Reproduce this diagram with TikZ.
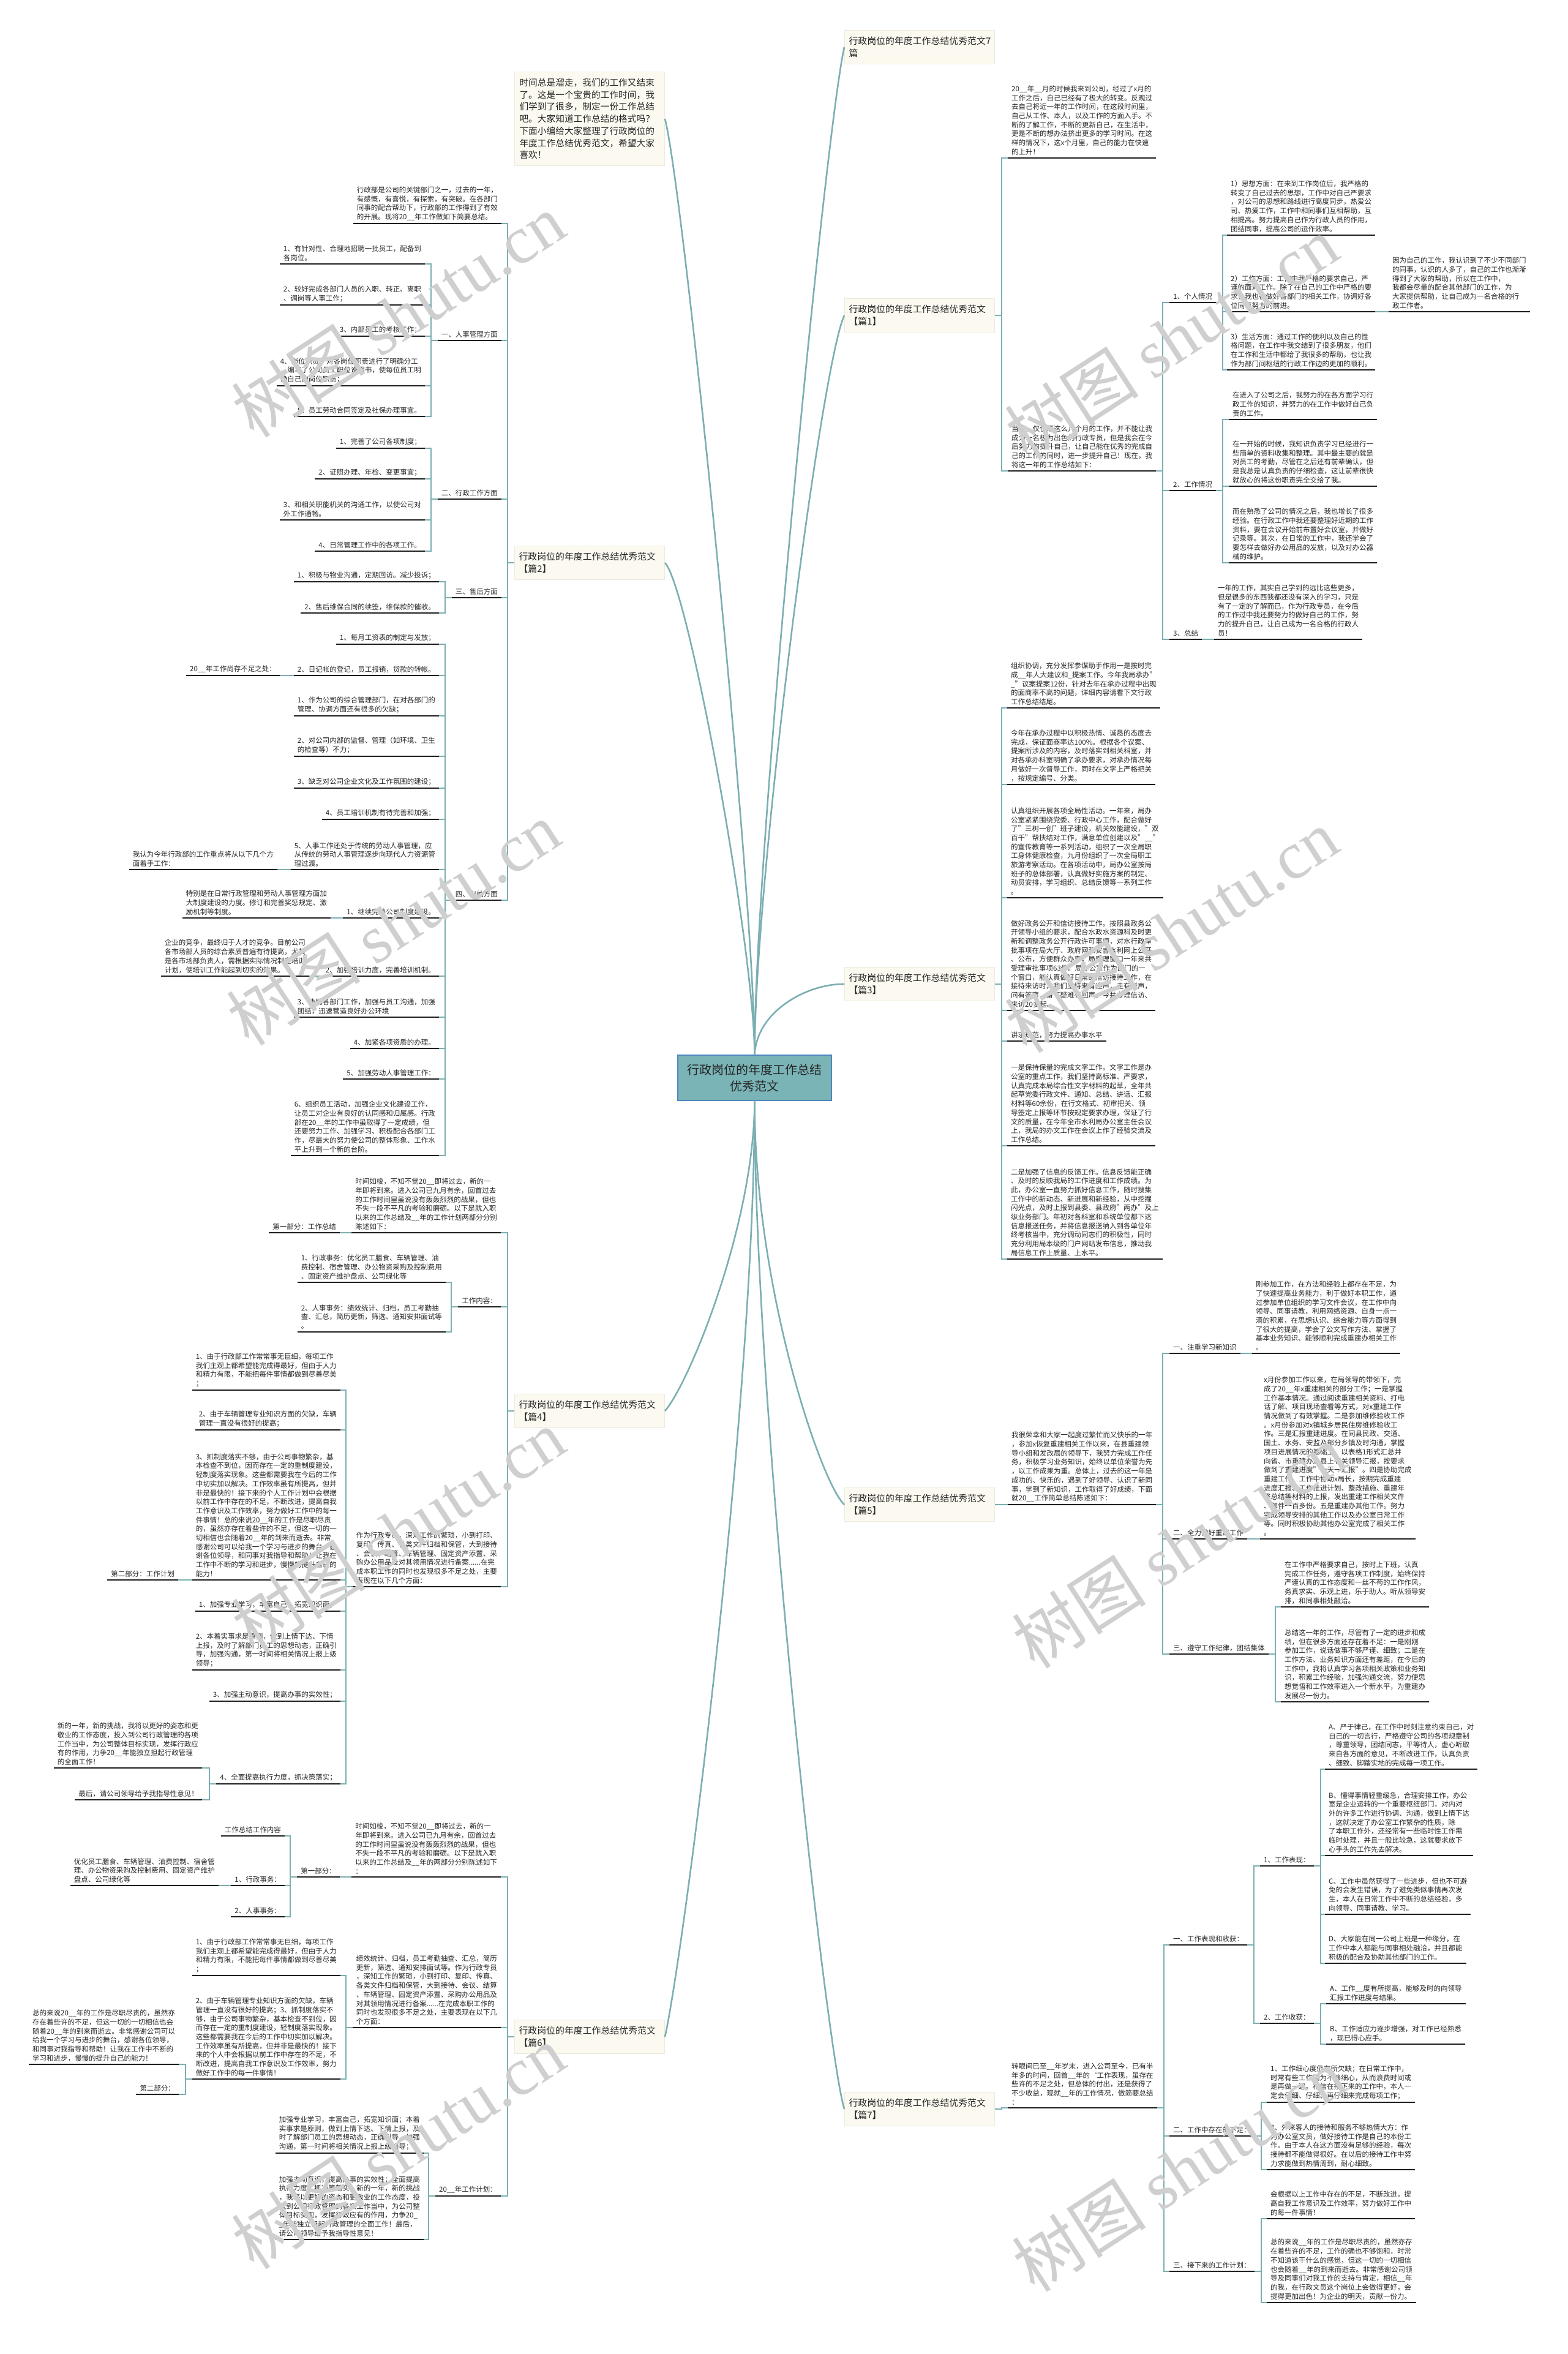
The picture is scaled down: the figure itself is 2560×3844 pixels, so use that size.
\documentclass[tikz,border=0pt]{standalone}
\usepackage{fontspec}
\setmainfont{Noto Sans CJK SC}
\newfontfamily\wmlat{Liberation Serif}
\definecolor{tealc}{HTML}{7BAFB2}
\definecolor{ulc}{HTML}{1E1E1E}
\definecolor{creamc}{HTML}{FCFAF0}
\definecolor{creamb}{HTML}{ECEBDD}
\definecolor{centerc}{HTML}{7AB4B6}
\definecolor{centerb}{HTML}{4F86C0}
\newcommand\fleaf{\fontsize{11.5}{14.7}\selectfont}
\newcommand\fbranch{\fontsize{14.9}{20.4}\selectfont}
\newcommand\fcenter{\fontsize{20}{27}\selectfont}
\newcommand\fintro{\fontsize{14.7}{19.7}\selectfont}
\newcommand\fwm{\fontsize{110}{110}\selectfont}
\tikzset{
  ulline/.style={draw=ulc,line width=2.2pt},
  lf/.style={font=\fleaf, align=left, inner xsep=6pt, inner ysep=4.5pt, text=black!85,
     append after command={\pgfextra{\let\LNd\tikzlastnode}(\LNd.south west) edge[ulline] (\LNd.south east)}},
  R/.style={lf, anchor=south west},
  L/.style={lf, anchor=south east},
  conn/.style={draw=tealc, line width=2pt},
  crv/.style={draw=tealc, line width=2.6pt},
  brbox/.style={fill=creamc, draw=creamb, line width=1pt, font=\fbranch, align=left, text width=231pt, inner xsep=7pt, minimum height=55pt, anchor=north west, text=black!85},
  wm/.style={text=black!19, rotate=33, inner sep=0pt},
}
\newcommand\cR[2]{\draw[conn] (#1.south east) -- ++(11,0) |- (#2.south west);}
\newcommand\cL[2]{\draw[conn] (#1.south west) -- ++(-11,0) |- (#2.south east);}
\newcommand\bR[2]{\draw[conn] (#1.east) -- ++(11,0) |- (#2.south west);}
\newcommand\bL[2]{\draw[conn] (#1.west) -- ++(-11,0) |- (#2.south east);}
\begin{document}
\begin{tikzpicture}[x=1pt,y=-1pt]
\useasboundingbox (0,0) rectangle (2560,3844);
\fill[white] (0,0) rectangle (2560,3844);
% ---------- central and branch boxes
\node[fill=centerc, draw=centerb, line width=1.2pt, font=\fcenter, align=center, minimum width=251pt, minimum height=74pt, text=black!85] (root) at (1232.5,1760) {行政岗位的年度工作总结\\优秀范文};
\node[fill=creamc, draw=creamb, line width=1pt, font=\fintro, align=left, anchor=north west, text width=229pt, inner xsep=8pt, minimum height=153pt, text=black!85] (intro) at (840,117) {时间总是溜走，我们的工作又结束\\了。这是一个宝贵的工作时间，我\\们学到了很多，制定一份工作总结\\吧。大家知道工作总结的格式吗？\\下面小编给大家整理了行政岗位的\\年度工作总结优秀范文，希望大家\\喜欢！};
\node[brbox] (b0) at (1379,49) {行政岗位的年度工作总结优秀范文7\\篇};
\node[brbox] (b1) at (1379,487) {行政岗位的年度工作总结优秀范文\\【篇1】};
\node[brbox] (b3) at (1379,1579) {行政岗位的年度工作总结优秀范文\\【篇3】};
\node[brbox] (b5) at (1379,2429) {行政岗位的年度工作总结优秀范文\\【篇5】};
\node[brbox] (b7) at (1379,3416) {行政岗位的年度工作总结优秀范文\\【篇7】};
\node[brbox] (b2) at (840,891) {行政岗位的年度工作总结优秀范文\\【篇2】};
\node[brbox] (b4) at (840,2276) {行政岗位的年度工作总结优秀范文\\【篇4】};
\node[brbox] (b6) at (840,3298) {行政岗位的年度工作总结优秀范文\\【篇6】};
% ---------- curves
\draw[crv] (root.north) .. controls (1232,1450) and (1115,300) .. (intro.east);
\draw[crv] (root.north) .. controls (1232,1550) and (1125,960) .. (b2.east);
\draw[crv] (root.north) .. controls (1232,1400) and (1350,200) .. (b0.west);
\draw[crv] (root.north) .. controls (1232,1450) and (1340,600) .. (b1.west);
\draw[crv] (root.north) .. controls (1236,1650) and (1320,1606) .. (b3.west);
\draw[crv] (root.south) .. controls (1232,2000) and (1125,2260) .. (b4.east);
\draw[crv] (root.south) .. controls (1232,2300) and (1115,3200) .. (b6.east);
\draw[crv] (root.south) .. controls (1232,2100) and (1340,2420) .. (b5.west);
\draw[crv] (root.south) .. controls (1232,2300) and (1350,3350) .. (b7.west);
% ================= 篇1
\node[R] (b1p1) at (1646,258) {20\_\_年\_\_月的时候我来到公司，经过了x月的\\工作之后，自己已经有了极大的转变。反观过\\去自己将近一年的工作时间，在这段时间里，\\自己从工作、本人，以及工作的方面入手。不\\断的了解工作，不断的更新自己，在生活中，\\更是不断的想办法挤出更多的学习时间。在这\\样的情况下，这x个月里，自己的能力在快速\\的上升！};
\node[R] (b1p2) at (1646,769) {当然，仅仅是这么几个月的工作，并不能让我\\成为一名极为出色的行政专员，但是我会在今\\后努力的提升自己，让自己能在优秀的完成自\\己的工作的同时，进一步提升自己！现在，我\\将这一年的工作总结如下：};
\node[R] (b1c1) at (1910,494) {1、个人情况};
\node[R] (b1c1a) at (2004,384) {1）思想方面：在来到工作岗位后，我严格的\\转变了自己过去的思想，工作中对自己严要求\\，对公司的思想和路线进行高度同步，热爱公\\司、热爱工作，工作中和同事们互相帮助，互\\相提高。努力提高自己作为行政人员的作用，\\团结同事，提高公司的运作效率。};
\node[R] (b1c1b) at (2004,509) {2）工作方面：工作中我严格的要求自己，严\\谨的面对工作。除了在自己的工作中严格的要\\求，我也在做好各部门的相关工作，协调好各\\位同事努力的前进。};
\node[R] (b1c1bx) at (2268,509) {因为自己的工作，我认识到了不少不同部门\\的同事，认识的人多了，自己的工作也渐渐\\得到了大家的帮助，所以在工作中，\\我都会尽量的配合其他部门的工作，为\\大家提供帮助，让自己成为一名合格的行\\政工作者。};
\node[R] (b1c1c) at (2004,604) {3）生活方面：通过工作的便利以及自己的性\\格问题，在工作中我交结到了很多朋友，他们\\在工作和生活中都给了我很多的帮助，也让我\\作为部门间枢纽的行政工作边的更加的顺利。};
\node[R] (b1c2) at (1910,801) {2、工作情况};
\node[R] (b1c2a) at (2007,685) {在进入了公司之后，我努力的在各方面学习行\\政工作的知识，并努力的在工作中做好自己负\\责的工作。};
\node[R] (b1c2b) at (2007,794) {在一开始的时候，我知识负责学习已经进行一\\些简单的资料收集和整理。其中最主要的就是\\对员工的考勤，尽管在之后还有前辈确认，但\\是我总是认真负责的仔细检查，这让前辈很快\\就放心的将这份职责完全交给了我。};
\node[R] (b1c2c) at (2007,919) {而在熟悉了公司的情况之后，我也增长了很多\\经验。在行政工作中我还要整理好近期的工作\\资料，要在会议开始前布置好会议室，并做好\\记录等。其次，在日常的工作中，我还学会了\\要怎样去做好办公用品的发放，以及对办公器\\械的维护。};
\node[R] (b1c3) at (1910,1044) {3、总结};
\node[R] (b1c3a) at (1983,1044) {一年的工作，其实自己学到的远比这些更多，\\但是很多的东西我都还没有深入的学习，只是\\有了一定的了解而已，作为行政专员，在今后\\的工作过中我还要努力的做好自己的工作，努\\力的提升自己，让自己成为一名合格的行政人\\员！};
\bR{b1}{b1p1} \bR{b1}{b1p2}
\cR{b1p2}{b1c1} \cR{b1p2}{b1c2} \cR{b1p2}{b1c3}
\cR{b1c1}{b1c1a} \cR{b1c1}{b1c1b} \cR{b1c1}{b1c1c} \cR{b1c1b}{b1c1bx}
\cR{b1c2}{b1c2a} \cR{b1c2}{b1c2b} \cR{b1c2}{b1c2c}
\cR{b1c3}{b1c3a}
% ================= 篇3
\node[R] (b3a) at (1645,1156) {组织协调，充分发挥参谋助手作用一是按时完\\成\_\_年人大建议和\_提案工作。今年我局承办"\\\_"议案提案12份，针对去年在承办过程中出现\\的面商率不高的问题，详细内容请看下文行政\\工作总结结尾。};
\node[R] (b3b) at (1645,1281) {今年在承办过程中以积极热情、诚恳的态度去\\完成，保证面商率达100\%。根据各个议案、\\提案所涉及的内容，及时落实到相关科室，并\\对各承办科室明确了承办要求，对承办情况每\\月做好一次督导工作，同时在文字上严格把关\\，按规定编号、分类。};
\node[R] (b3c) at (1645,1466) {认真组织开展各项全局性活动。一年来，局办\\公室紧紧围绕党委、行政中心工作，配合做好\\了"三树一创"班子建设，机关效能建设，"双\\百千"帮扶结对工作，满意单位创建以及"\_\_"\\的宣传教育等一系列活动，组织了一次全局职\\工身体健康检查，九月份组织了一次全局职工\\旅游考察活动。在各项活动中，局办公室按局\\班子的总体部署，认真做好实施方案的制定、\\动员安排，学习组织、总结反馈等一系列工作\\。};
\node[R] (b3d) at (1645,1650) {做好政务公开和信访接待工作。按照县政务公\\开领导小组的要求，配合水政水资源科及时更\\新和调整政务公开行政许可事项，对水行政审\\批事项在局大厅、政府网和安吉水利网上公开\\、公布，方便群众办事，局受理窗口一年来共\\受理审批事项63件。局办公室作为部门的一\\个窗口，能认真做好日常的信访接待工作，在\\接待来访时，我们坚持来有迎声，走有送声，\\问有答声，留下疑难有回声。今共办理信访、\\来访20多起。};
\node[R] (b3e) at (1645,1700) {讲求规范，努力提高办事水平};
\node[R] (b3f) at (1645,1871) {一是保持保量的完成文字工作。文字工作是办\\公室的重点工作，我们坚持高标准、严要求，\\认真完成本局综合性文字材料的起草，全年共\\起草党委行政文件、通知、总结、讲话、汇报\\材料等60余份，在行文格式、初审把关、领\\导签定上报等环节按规定要求办理，保证了行\\文的质量，在今年全市水利局办公室主任会议\\上，我局的办文工作在会议上作了经验交流及\\工作总结。};
\node[R] (b3g) at (1645,2056) {二是加强了信息的反馈工作。信息反馈能正确\\、及时的反映我局的工作进度和工作成绩。为\\此，办公室一直努力抓好信息工作，随时搜集\\工作中的新动态、新进展和新经验，从中挖掘\\闪光点，及时上报到县委、县政府"两办"及上\\级业务部门。年初对各科室和系统单位都下达\\信息报送任务，并将信息报送纳入到各单位年\\终考核当中，充分调动同志们的积极性，同时\\充分利用局本级的门户网站发布信息，推动我\\局信息工作上质量、上水平。};
\bR{b3}{b3a} \bR{b3}{b3b} \bR{b3}{b3c} \bR{b3}{b3d} \bR{b3}{b3e} \bR{b3}{b3f} \bR{b3}{b3g}
% ================= 篇5
\node[R] (b5p) at (1646,2457) {我很荣幸和大家一起度过繁忙而又快乐的一年\\，参加x恢复重建相关工作以来，在县重建领\\导小组和发改局的领导下，我努力完成工作任\\务，积极学习业务知识，始终以单位荣誉为先\\，以工作成果为重。总体上，过去的这一年是\\成功的、快乐的，遇到了好领导、认识了新同\\事，学到了新知识，工作取得了好成绩，下面\\就20\_\_工作简单总结陈述如下：};
\node[R] (b5c1) at (1910,2210) {一、注重学习新知识};
\node[R] (b5c1a) at (2045,2210) {刚参加工作，在方法和经验上都存在不足，为\\了快速提高业务能力，利于做好本职工作，通\\过参加单位组织的学习文件会议，在工作中向\\领导、同事请教，利用网络资源、自身一点一\\滴的积累，在思想认识、综合能力等方面得到\\了很大的提高，学会了公文写作方法、掌握了\\基本业务知识、能够顺利完成重建办相关工作\\。};
\node[R] (b5c2) at (1910,2513) {二、全力做好重建工作};
\node[R] (b5c2a) at (2058,2513) {x月份参加工作以来，在局领导的带领下，完\\成了20\_\_年x重建相关的部分工作；一是掌握\\工作基本情况。通过阅读重建相关资料、打电\\话了解、项目现场查看等方式，对x重建工作\\情况做到了有效掌握。二是参加维修验收工作\\。x月份参加对x镇城乡居民住房维修验收工\\作。三是汇报重建进度。在同县民政、交通、\\国土、水务、安监及部分乡镇及时沟通，掌握\\项目进展情况的基础上，以表格1形式汇总并\\向省、市重建办及县上有关领导汇报，按要求\\做到了重建进度"十天一汇报"。四是协助完成\\重建工作。工作中协助x局长，按期完成重建\\进度汇报、工作推进计划、整改措施、重建年\\终总结等材料的上报，发出重建工作相关文件\\、邮件一百多份。五是重建办其他工作。努力\\完成领导安排的其他工作以及办公室日常工作\\等。同时积极协助其他办公室完成了相关工作\\。};
\node[R] (b5c3) at (1910,2701) {三、遵守工作纪律，团结集体};
\node[R] (b5c3a) at (2092,2624) {在工作中严格要求自己，按时上下班，认真\\完成工作任务，遵守各项工作制度，始终保持\\严谨认真的工作态度和一丝不苟的工作作风，\\务真求实、乐观上进，乐于助人。听从领导安\\排，和同事相处融洽。};
\node[R] (b5c3b) at (2092,2779) {总结这一年的工作，尽管有了一定的进步和成\\绩，但在很多方面还存在着不足：一是刚刚\\参加工作，说话做事不够严谨、细致；二是在\\工作方法、业务知识方面还有差距，在今后的\\工作中，我将认真学习各项相关政策和业务知\\识，积累工作经验，加强沟通交流，努力使思\\想觉悟和工作效率进入一个新水平，为重建办\\发展尽一份力。};
\bR{b5}{b5p}
\cR{b5p}{b5c1} \cR{b5p}{b5c2} \cR{b5p}{b5c3}
\cR{b5c1}{b5c1a} \cR{b5c2}{b5c2a} \cR{b5c3}{b5c3a} \cR{b5c3}{b5c3b}
% ================= 篇7
\node[R] (b7p) at (1646,3442) {转眼间已至\_\_年岁末，进入公司至今，已有半\\年多的时间，回首\_\_年的`工作表现，虽存在\\些许的不足之处，但总体的付出，还是获得了\\不少收益，现就\_\_年的工作情况，做简要总结\\：};
\node[R] (b7c1) at (1910,3176) {一、工作表现和收获：};
\node[R] (b7c1a) at (2058,3047) {1、工作表现：};
\node[R] (b7a1) at (2164,2889) {A、严于律己，在工作中时刻注意约束自己，对\\自己的一切言行，严格遵守公司的各项规章制\\，尊重领导，团结同志，平等待人，虚心听取\\来自各方面的意见，不断改进工作，认真负责\\、细致、脚踏实地的完成每一项工作。};
\node[R] (b7a2) at (2164,3030) {B、懂得事情轻重缓急，合理安排工作，办公\\室是企业运转的一个重要枢纽部门，对内对\\外的许多工作进行协调、沟通，做到上情下达\\，这就决定了办公室工作繁杂的性质，除\\了本职工作外，还经常有一些临时性工作需\\临时处理，并且一般比较急，这就要求放下\\心手头的工作先去解决。};
\node[R] (b7a3) at (2164,3126) {C、工作中虽然获得了一些进步，但也不可避\\免的会发生错误，为了避免类似事情再次发\\生，本人在日常工作中不断的总结经验，多\\向领导、同事请教、学习。};
\node[R] (b7a4) at (2164,3206) {D、大家能在同一公司上班是一种缘分，在\\工作中本人都能与同事相处融洽，并且都能\\积极的配合及协助其他部门的工作。};
\node[R] (b7c1b) at (2058,3304) {2、工作收获：};
\node[R] (b7b1) at (2166,3272) {A、工作\_\_度有所提高，能够及时的向领导\\汇报工作进度与结果。};
\node[R] (b7b2) at (2166,3338) {B、工作适应力逐步增强，对工作已经熟悉\\，现已得心应手。};
\node[R] (b7c2) at (1910,3488) {二、工作中存在的不足：};
\node[R] (b7d1) at (2069,3433) {1、工作细心度仍有所欠缺；在日常工作中，\\时常有些工作因为不够细心，从而浪费时间或\\是再做一遍。相信在接下来的工作中，本人一\\定会仔细、仔细、再仔细来完成每项工作；};
\node[R] (b7d2) at (2069,3543) {2、外来客人的接待和服务不够热情大方：作\\为办公室文员，做好接待工作是自己的本份工\\作。由于本人在这方面没有足够的经验，每次\\接待都不能做得很好。在以后的接待工作中努\\力求能做到热情周到，耐心细致。};
\node[R] (b7c3) at (1910,3709) {三、接下来的工作计划：};
\node[R] (b7e1) at (2069,3623) {会根据以上工作中存在的不足，不断改进，提\\高自我工作意识及工作效率，努力做好工作中\\的每一件事情！};
\node[R] (b7e2) at (2069,3760) {总的来说\_\_年的工作是尽职尽责的，虽然亦存\\在着些许的不足，工作的确也不够饱和，时常\\不知道该干什么的感觉，但这一切的一切相信\\也会随着\_\_年的到来而逝去。非常感谢公司领\\导及同事们对我工作的支持与肯定，相信\_\_年\\的我，在行政文员这个岗位上会做得更好，会\\提得更加出色！为企业的明天，贡献一份力。};
\bR{b7}{b7p}
\cR{b7p}{b7c1} \cR{b7p}{b7c2} \cR{b7p}{b7c3}
\cR{b7c1}{b7c1a} \cR{b7c1}{b7c1b}
\cR{b7c1a}{b7a1} \cR{b7c1a}{b7a2} \cR{b7c1a}{b7a3} \cR{b7c1a}{b7a4}
\cR{b7c1b}{b7b1} \cR{b7c1b}{b7b2}
\cR{b7c2}{b7d1} \cR{b7c2}{b7d2}
\cR{b7c3}{b7e1} \cR{b7c3}{b7e2}
% ================= 篇2
\node[L] (b2a) at (819,365) {行政部是公司的关键部门之一，过去的一年，\\有感慨，有喜悦，有探索，有突破。在各部门\\同事的配合帮助下，行政部的工作得到了有效\\的开展。现将20\_\_年工作做如下简要总结。};
\node[L] (b2b) at (819,556) {一、人事管理方面};
\node[L] (b2b1) at (694,431) {1、有针对性、合理地招聘一批员工，配备到\\各岗位。};
\node[L] (b2b2) at (694,498) {2、较好完成各部门人员的入职、转正、离职\\、调岗等人事工作；};
\node[L] (b2b3) at (694,549) {3、内部员工的考核工作；};
\node[L] (b2b4) at (694,630) {4、岗位职责：对各岗位职责进行了明确分工\\，编写了公司员工职位说明书，使每位员工明\\确自己的岗位职责；};
\node[L] (b2b5) at (694,680) {5、员工劳动合同签定及社保办理事宜。};
\node[L] (b2c) at (819,815) {二、行政工作方面};
\node[L] (b2c1) at (694,732) {1、完善了公司各项制度；};
\node[L] (b2c2) at (694,782) {2、证照办理、年检、变更事宜；};
\node[L] (b2c3) at (694,849) {3、和相关职能机关的沟通工作，以使公司对\\外工作通畅。};
\node[L] (b2c4) at (694,900) {4、日常管理工作中的各项工作。};
\node[L] (b2d) at (819,976) {三、售后方面};
\node[L] (b2d1) at (717,950) {1、积极与物业沟通，定期回访。减少投诉；};
\node[L] (b2d2) at (717,1001) {2、售后维保合同的续签，维保款的催收。};
\node[L] (b2e) at (819,1470) {四、出纳方面};
\node[L] (b2e1) at (717,1052) {1、每月工资表的制定与发放；};
\node[L] (b2e2) at (717,1103) {2、日记帐的登记，员工报销，货款的转帐。};
\node[L] (b2e2x) at (457,1103) {20\_\_年工作尚存不足之处：};
\node[L] (b2e3) at (717,1169) {1、作为公司的综合管理部门，在对各部门的\\管理、协调方面还有很多的欠缺；};
\node[L] (b2e4) at (717,1235) {2、对公司内部的监督、管理（如环境、卫生\\的检查等）不力；};
\node[L] (b2e5) at (717,1287) {3、缺乏对公司企业文化及工作氛围的建设；};
\node[L] (b2e6) at (717,1338) {4、员工培训机制有待完善和加强；};
\node[L] (b2e7) at (717,1420) {5、人事工作还处于传统的劳动人事管理，应\\从传统的劳动人事管理逐步向现代人力资源管\\理过渡。};
\node[L] (b2e7x) at (453,1420) {我认为今年行政部的工作重点将从以下几个方\\面着手工作：};
\node[L] (b2e8) at (717,1499) {1、继续完善公司制度建设。};
\node[L] (b2e8x) at (540,1499) {特别是在日常行政管理和劳动人事管理方面加\\大制度建设的力度。修订和完善奖惩规定、激\\励机制等制度。};
\node[L] (b2e9) at (717,1594) {2、加强培训力度，完善培训机制。};
\node[L] (b2e9x) at (505,1594) {企业的竞争，最终归于人才的竞争。目前公司\\各市场部人员的综合素质普遍有待提高，尤其\\是各市场部负责人，需根据实际情况制定培训\\计划，使培训工作能起到切实的效果。};
\node[L] (b2e10) at (717,1661) {3、协助各部门工作，加强与员工沟通，加强\\团结，迅速营造良好办公环境};
\node[L] (b2e11) at (717,1712) {4、加紧各项资质的办理。};
\node[L] (b2e12) at (717,1762) {5、加强劳动人事管理工作：};
\node[L] (b2e13) at (717,1887) {6、组织员工活动，加强企业文化建设工作，\\让员工对企业有良好的认同感和归属感。行政\\部在20\_\_年的工作中虽取得了一定成绩，但\\还要努力工作、加强学习、积极配合各部门工\\作，尽最大的努力使公司的整体形象、工作水\\平上升到一个新的台阶。};
\bL{b2}{b2a} \bL{b2}{b2b} \bL{b2}{b2c} \bL{b2}{b2d} \bL{b2}{b2e}
\cL{b2b}{b2b1} \cL{b2b}{b2b2} \cL{b2b}{b2b3} \cL{b2b}{b2b4} \cL{b2b}{b2b5}
\cL{b2c}{b2c1} \cL{b2c}{b2c2} \cL{b2c}{b2c3} \cL{b2c}{b2c4}
\cL{b2d}{b2d1} \cL{b2d}{b2d2}
\cL{b2e}{b2e1} \cL{b2e}{b2e2} \cL{b2e}{b2e3} \cL{b2e}{b2e4} \cL{b2e}{b2e5} \cL{b2e}{b2e6} \cL{b2e}{b2e7}
\cL{b2e}{b2e8} \cL{b2e}{b2e9} \cL{b2e}{b2e10} \cL{b2e}{b2e11} \cL{b2e}{b2e12} \cL{b2e}{b2e13}
\cL{b2e2}{b2e2x} \cL{b2e7}{b2e7x} \cL{b2e8}{b2e8x} \cL{b2e9}{b2e9x}
% ================= 篇4
\node[L] (b4a) at (818,2013) {时间如梭，不知不觉20\_\_即将过去，新的一\\年即将到来。进入公司已九月有余，回首过去\\的工作时间里虽说没有轰轰烈烈的战果，但也\\不失一段不平凡的考验和磨砺。以下是就入职\\以来的工作总结及\_\_年的工作计划两部分分别\\陈述如下：};
\node[L] (b4ax) at (555,2013) {第一部分：工作总结};
\node[L] (b4b) at (818,2134) {工作内容：};
\node[L] (b4b1) at (728,2094) {1、行政事务：优化员工膳食、车辆管理、油\\费控制、宿舍管理、办公物资采购及控制费用\\、固定资产维护盘点、公司绿化等};
\node[L] (b4b2) at (728,2175) {2、人事事务：绩效统计、归档，员工考勤抽\\查、汇总，简历更新，筛选、通知安排面试等\\。};
\node[L] (b4c) at (818,2591) {作为行政专员，深知工作的繁琐，小到打印、\\复印、传真、各类文件归档和保管，大到接待\\、会议、结算、车辆管理、固定资产添置、采\\购办公用品及对其领用情况进行备案......在完\\成本职工作的同时也发现很多不足之处，主要\\表现在以下几个方面：};
\node[L] (b4c1) at (556,2270) {1、由于行政部工作常常事无巨细，每项工作\\我们主观上都希望能完成得最好，但由于人力\\和精力有限，不能把每件事情都做到尽善尽美\\；};
\node[L] (b4c2) at (556,2335) {2、由于车辆管理专业知识方面的欠缺，车辆\\管理一直没有很好的提高；};
\node[L] (b4c3) at (556,2580) {3、抓制度落实不够，由于公司事物繁杂，基\\本检查不到位，因而存在一定的重制度建设，\\轻制度落实现象。这些都需要我在今后的工作\\中切实加以解决。工作效率虽有所提高，但并\\非是最快的！接下来的个人工作计划中会根据\\以前工作中存在的不足，不断改进，提高自我\\工作意识及工作效率，努力做好工作中的每一\\件事情！总的来说20\_\_年的工作是尽职尽责\\的，虽然亦存在着些许的不足，但这一切的一\\切相信也会随着20\_\_年的到来而逝去。非常\\感谢公司可以给我一个学习与进步的舞台，感\\谢各位领导，和同事对我指导和帮助！让我在\\工作中不断的学习和进步，慢慢的提升自己的\\能力！};
\node[L] (b4c3x) at (291,2580) {第二部分：工作计划};
\node[L] (b4c4) at (556,2631) {1、加强专业学习，丰富自己，拓宽知识面；};
\node[L] (b4c5) at (556,2727) {2、本着实事求是原则，做到上情下达、下情\\上报，及时了解部门员工的思想动态，正确引\\导，加强沟通，第一时间将相关情况上报上级\\领导；};
\node[L] (b4c6) at (556,2778) {3、加强主动意识，提高办事的实效性；};
\node[L] (b4c7) at (556,2913) {4、全面提高执行力度，抓决策落实；};
\node[L] (b4c7a) at (330,2887) {新的一年，新的挑战，我将以更好的姿态和更\\敬业的工作态度，投入到公司行政管理的各项\\工作当中，为公司整体目标实现，发挥行政应\\有的作用，力争20\_\_年能独立担起行政管理\\的全面工作！};
\node[L] (b4c7b) at (330,2939) {最后，请公司领导给予我指导性意见！};
\bL{b4}{b4a} \bL{b4}{b4b} \bL{b4}{b4c}
\cL{b4a}{b4ax}
\cL{b4b}{b4b1} \cL{b4b}{b4b2}
\cL{b4c}{b4c1} \cL{b4c}{b4c2} \cL{b4c}{b4c3} \cL{b4c}{b4c4} \cL{b4c}{b4c5} \cL{b4c}{b4c6} \cL{b4c}{b4c7}
\cL{b4c3}{b4c3x} \cL{b4c7}{b4c7a} \cL{b4c7}{b4c7b}
% ================= 篇6
\node[L] (b6a) at (818,3065) {时间如梭，不知不觉20\_\_即将过去，新的一\\年即将到来。进入公司已九月有余，回首过去\\的工作时间里虽说没有轰轰烈烈的战果，但也\\不失一段不平凡的考验和磨砺。以下是就入职\\以来的工作总结及\_\_年的两部分分别陈述如下\\：};
\node[L] (b6ax) at (555,3065) {第一部分：};
\node[L] (b6ax1) at (465,2998) {工作总结工作内容};
\node[L] (b6ax2) at (465,3079) {1、行政事务：};
\node[L] (b6ax2a) at (357,3079) {优化员工膳食、车辆管理、油费控制、宿舍管\\理、办公物资采购及控制费用、固定资产维护\\盘点、公司绿化等};
\node[L] (b6ax3) at (465,3130) {2、人事事务：};
\node[L] (b6b) at (818,3311) {绩效统计、归档，员工考勤抽查、汇总，简历\\更新，筛选、通知安排面试等。作为行政专员\\，深知工作的繁琐，小到打印、复印、传真、\\各类文件归档和保管，大到接待、会议、结算\\、车辆管理、固定资产添置、采购办公用品及\\对其领用情况进行备案......在完成本职工作的\\同时也发现很多不足之处，主要表现在以下几\\个方面：};
\node[L] (b6b1) at (556,3226) {1、由于行政部工作常常事无巨细，每项工作\\我们主观上都希望能完成得最好，但由于人力\\和精力有限，不能把每件事情都做到尽善尽美\\；};
\node[L] (b6b2) at (556,3395) {2、由于车辆管理专业知识方面的欠缺，车辆\\管理一直没有很好的提高；3、抓制度落实不\\够，由于公司事物繁杂，基本检查不到位，因\\而存在一定的重制度建设，轻制度落实现象。\\这些都需要我在今后的工作中切实加以解决。\\工作效率虽有所提高，但并非是最快的！接下\\来的个人中会根据以前工作中存在的不足，不\\断改进，提高自我工作意识及工作效率，努力\\做好工作中的每一件事情！};
\node[L] (b6b2a) at (292,3371) {总的来说20\_\_年的工作是尽职尽责的，虽然亦\\存在着些许的不足，但这一切的一切相信也会\\随着20\_\_年的到来而逝去。非常感谢公司可以\\给我一个学习与进步的舞台，感谢各位领导，\\和同事对我指导和帮助！让我在工作中不断的\\学习和进步，慢慢的提升自己的能力！};
\node[L] (b6b2b) at (292,3420) {第二部分：};
\node[L] (b6c) at (818,3586) {20\_\_年工作计划：};
\node[L] (b6c1) at (692,3516) {加强专业学习，丰富自己，拓宽知识面；本着\\实事求是原则，做到上情下达、下情上报，及\\时了解部门员工的思想动态，正确引导，加强\\沟通，第一时间将相关情况上报上级领导；};
\node[L] (b6c2) at (692,3657) {加强主动意识，提高办事的实效性；全面提高\\执行力度，抓决策落实；新的一年，新的挑战\\，我将以更好的姿态和更敬业的工作态度，投\\入到公司行政管理的各项工作当中，为公司整\\体目标实现，发挥行政应有的作用，力争20\_\\\_年能独立担起行政管理的全面工作！最后，\\请公司领导给予我指导性意见！};
\bL{b6}{b6a} \bL{b6}{b6b} \bL{b6}{b6c}
\cL{b6a}{b6ax}
\cL{b6ax}{b6ax1} \cL{b6ax}{b6ax2} \cL{b6ax}{b6ax3}
\cL{b6ax2}{b6ax2a}
\cL{b6b}{b6b1} \cL{b6b}{b6b2}
\cL{b6b2}{b6b2a} \cL{b6b2}{b6b2b}
\cL{b6c}{b6c1} \cL{b6c}{b6c2}
% ================= watermarks
\foreach \wx/\wy [count=\wi] in {650/515, 642/1508, 650/2500, 650/3506, 1913/552, 1913/1520, 1925/2525, 1925/3543}{
  \node[wm] (wm\wi) at (\wx,\wy) {\fwm 树图 {\wmlat shutu.cn}};
}
\end{tikzpicture}
\end{document}
